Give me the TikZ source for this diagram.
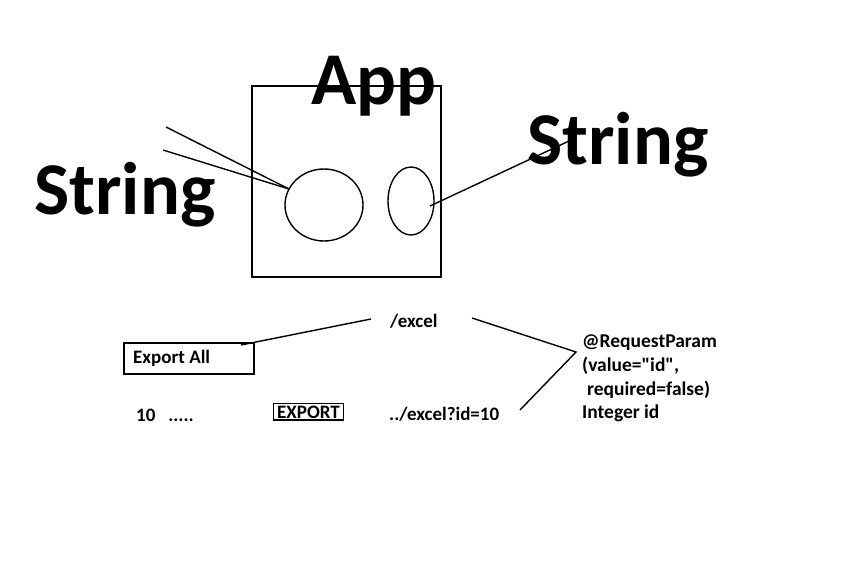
\documentclass[tikz,border=0pt]{standalone}
\usepackage{fontspec}
\newfontfamily\cf{Carlito}
\tikzset{
  big/.style={font=\cf\bfseries\fontsize{74.5}{74}\selectfont, inner sep=0pt, anchor=base west},
  small/.style={font=\cf\bfseries\fontsize{19}{22}\selectfont, inner sep=0pt, anchor=base west},
  ln/.style={line width=1.4pt, black},
  boxed/.style={draw, line width=1.4pt}
}
\begin{document}
\begin{tikzpicture}[x=1pt,y=-1pt]
\useasboundingbox (0,0) rectangle (864,568);
\fill[white] (0,0) rectangle (864,568);
% App box
\draw[ln] (252,86) rectangle (441,277);
\node[big] (app) at (311,104) {App};
\node[big] (strL) at (34,214) {String};
\node[big] (strR) at (527,164) {String};
% ellipses
\draw[ln] (324,205) ellipse [x radius=39, y radius=36];
\draw[ln] (411,201) ellipse [x radius=23, y radius=34];
\coordinate (e1) at (289,189);
\coordinate (e2) at (430,206);
\coordinate (a1) at (166,127);
\coordinate (a2) at (163,150);
\coordinate (a3) at (569,141);
\draw[ln] (a1) -- (e1);
\draw[ln] (a2) -- (e1);
\draw[ln] (e2) -- (a3);
% lower texts
\node[small] (excel) at (390,327) {/excel};
\node[small] (exall) at (133,363) {Export All};
\draw[ln] (124,343) rectangle (254,374);
\node[small] (ten) at (136,421) {10\ \ \ .....};
\node[small, draw, line width=1.4pt, inner xsep=3.5pt, inner ysep=2pt, anchor=base] (export) at (308.5,418) {EXPORT};
\node[small] (exid) at (389,420) {../excel?id=10};
\node[font=\cf\bfseries\fontsize{19.5}{22}\selectfont, inner sep=0pt, anchor=base west] (rp1) at (582,347) {@RequestParam};
\node[font=\cf\bfseries\fontsize{19.5}{22}\selectfont, inner sep=0pt, anchor=base west] (rp2) at (582,371) {(value="id",};
\node[font=\cf\bfseries\fontsize{19.5}{22}\selectfont, inner sep=0pt, anchor=base west] (rp3) at (587,395) {required=false)};
\node[font=\cf\bfseries\fontsize{19.5}{22}\selectfont, inner sep=0pt, anchor=base west] (rp4) at (582,418) {Integer id};
\coordinate (b1) at (241,345);
\coordinate (b2) at (371,319);
\coordinate (c1) at (472,318);
\coordinate (v) at (576,352);
\coordinate (c2) at (520,410);
\draw[ln] (b1) -- (b2);
\draw[ln] (c1) -- (v) -- (c2);
\end{tikzpicture}
\end{document}
